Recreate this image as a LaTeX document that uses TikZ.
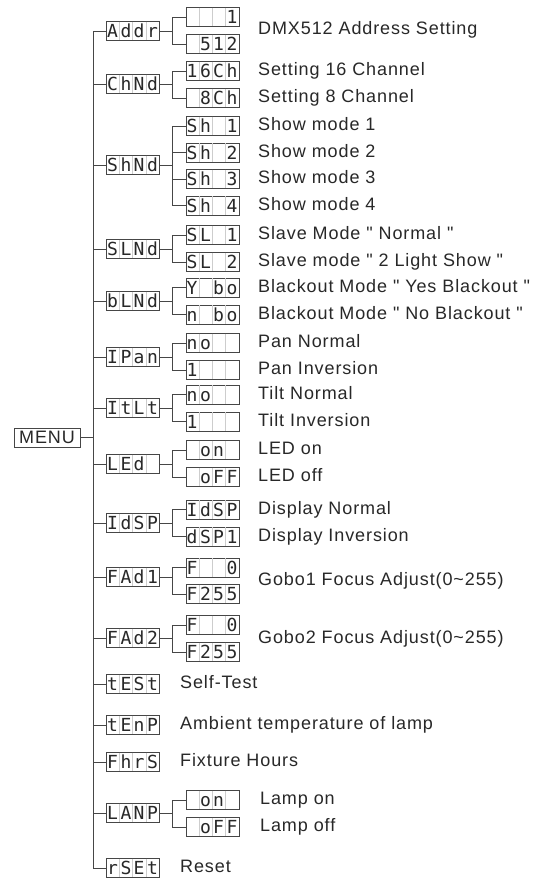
\documentclass[tikz,border=0pt]{standalone}
\usepackage{fontspec}
\setmainfont[LetterSpace=5]{Liberation Sans}
\newfontfamily\segfont{DejaVu Sans Mono}
\usetikzlibrary{
  positioning,
  calc
}
\definecolor{wire}{RGB}{70,70,70}
\definecolor{ink}{RGB}{40,40,40}
\definecolor{cellgrid}{RGB}{205,205,205}

\tikzset{
  seg/.style={draw=wire, line width=0.9pt, minimum width=53pt,
              minimum height=19pt, inner sep=0pt, fill=white},
  segcell/.style={font=\segfont\fontsize{18}{18}\selectfont, text=ink,
                  inner sep=0pt, text height=13pt, text depth=0pt},
  cellline/.style={draw=cellgrid, line width=0.5pt,
                   shorten >=0.6pt, shorten <=0.6pt},
  link/.style={draw=wire, line width=0.9pt},
  caption/.style={font=\fontsize{18}{18}\selectfont, text=ink, anchor=west,
                  inner sep=0pt, text height=13pt, text depth=4pt}
}

% one four-digit readout: name, centre, four characters
\newcommand{\segbox}[6]{%
  \node[seg] (#1) at (#2) {};
  \foreach \k in {1,2,3}
    \draw[cellline] ($(#1.north west)+(\k*13.25,0)$) -- ($(#1.south west)+(\k*13.25,0)$);
  \node[segcell] (#1-a) at ($(#1.west)+(6.6,0)$) {#3};
  \node[segcell] (#1-b) at ($(#1.west)+(19.9,0)$) {#4};
  \node[segcell] (#1-c) at ($(#1.west)+(33.1,0)$) {#5};
  \node[segcell] (#1-d) at ($(#1.west)+(46.4,0)$) {#6};
}

\begin{document}
\begin{tikzpicture}[x=1pt, y=-1pt]
  \fill[white] (0,0) rectangle (537,879);
  \useasboundingbox (0,0) rectangle (537,879);

  \node[draw=wire, line width=0.9pt, minimum width=66pt, minimum height=19pt,
        inner sep=0pt, font=\fontsize{18}{18}\selectfont, text=ink] (MENU) at (47,437.5) {MENU};
  \coordinate (trunk) at (93,31);

  % main menu readouts
  \segbox{Addr}{133,31}{A}{d}{d}{r}
  \segbox{ChNd}{133,84}{C}{h}{N}{d}
  \segbox{ShNd}{133,165}{S}{h}{N}{d}
  \segbox{SLNd}{133,249}{S}{L}{N}{d}
  \segbox{bLNd}{133,301}{b}{L}{N}{d}
  \segbox{IPAn}{133,357}{I}{P}{a}{n}
  \segbox{ItLt}{133,408}{I}{t}{L}{t}
  \segbox{LEd}{133,464}{L}{E}{d}{}
  \segbox{IdSP}{133,523}{I}{d}{S}{P}
  \segbox{FAd1}{133,577}{F}{A}{d}{1}
  \segbox{FAd2}{133,638}{F}{A}{d}{2}
  \segbox{tESt}{133,684}{t}{E}{S}{t}
  \segbox{tEnP}{133,725}{t}{E}{n}{P}
  \segbox{FhrS}{133,762}{F}{h}{r}{S}
  \segbox{LAnP}{133,813}{L}{A}{N}{P}
  \segbox{rSEt}{133,868}{r}{S}{E}{t}

  % sub readouts
  \segbox{Addr-1}{212.5,17}{}{}{}{1}
  \segbox{Addr-2}{212.5,44}{}{5}{1}{2}
  \segbox{ChNd-1}{212.5,71}{1}{6}{C}{h}
  \segbox{ChNd-2}{212.5,98}{}{8}{C}{h}
  \segbox{ShNd-1}{212.5,126}{S}{h}{}{1}
  \segbox{ShNd-2}{212.5,152.5}{S}{h}{}{2}
  \segbox{ShNd-3}{212.5,179}{S}{h}{}{3}
  \segbox{ShNd-4}{212.5,205.5}{S}{h}{}{4}
  \segbox{SLNd-1}{212.5,235}{S}{L}{}{1}
  \segbox{SLNd-2}{212.5,262}{S}{L}{}{2}
  \segbox{bLNd-1}{212.5,287.5}{Y}{}{b}{o}
  \segbox{bLNd-2}{212.5,314.5}{n}{}{b}{o}
  \segbox{IPAn-1}{212.5,343}{n}{o}{}{}
  \segbox{IPAn-2}{212.5,370}{1}{}{}{}
  \segbox{ItLt-1}{212.5,394.5}{n}{o}{}{}
  \segbox{ItLt-2}{212.5,421.5}{1}{}{}{}
  \segbox{LEd-1}{212.5,450}{}{o}{n}{}
  \segbox{LEd-2}{212.5,477}{}{o}{F}{F}
  \segbox{IdSP-1}{212.5,509.5}{I}{d}{S}{P}
  \segbox{IdSP-2}{212.5,536.5}{d}{S}{P}{1}
  \segbox{FAd1-1}{212.5,567.5}{F}{}{}{0}
  \segbox{FAd1-2}{212.5,594}{F}{2}{5}{5}
  \segbox{FAd2-1}{212.5,625}{F}{}{}{0}
  \segbox{FAd2-2}{212.5,652}{F}{2}{5}{5}
  \segbox{LAnP-1}{212.5,800}{}{o}{n}{}
  \segbox{LAnP-2}{212.5,827}{}{o}{F}{F}

  % connectors
  \draw[link] (MENU.east) -- (MENU.east -| trunk);
  \draw[link] (trunk) -- (trunk |- rSEt.west);
  \foreach \m in {Addr,ChNd,ShNd,SLNd,bLNd,IPAn,ItLt,LEd,IdSP,FAd1,FAd2,tESt,tEnP,FhrS,LAnP,rSEt}
    \draw[link] (\m.west) -- (\m.west -| trunk);
  \foreach \m/\n in {Addr/2,ChNd/2,ShNd/4,SLNd/2,bLNd/2,IPAn/2,ItLt/2,LEd/2,IdSP/2,FAd1/2,FAd2/2,LAnP/2} {
    \draw[link] (\m.east) -- ++(12,0) coordinate (\m-fork);
    \foreach \k in {1,...,\n}
      \draw[link] (\m-fork) |- (\m-\k.west);
  }

  % captions
  \node[caption] (capAddr) at (258,30) {DMX512 Address Setting};
  \node[caption] (capCh1) at (258,71) {Setting 16 Channel};
  \node[caption] (capCh2) at (258,98) {Setting 8 Channel};
  \node[caption] (capSh1) at (258,126) {Show mode 1};
  \node[caption] (capSh2) at (258,152.5) {Show mode 2};
  \node[caption] (capSh3) at (258,179) {Show mode 3};
  \node[caption] (capSh4) at (258,205.5) {Show mode 4};
  \node[caption] (capSL1) at (258,235) {Slave Mode \textquotedbl{} Normal \textquotedbl};
  \node[caption] (capSL2) at (258,262) {Slave mode \textquotedbl{} 2 Light Show \textquotedbl};
  \node[caption] (capbL1) at (258,287.5) {Blackout Mode \textquotedbl{} Yes Blackout \textquotedbl};
  \node[caption] (capbL2) at (258,314.5) {Blackout Mode \textquotedbl{} No Blackout \textquotedbl};
  \node[caption] (capPan1) at (258,343) {Pan Normal};
  \node[caption] (capPan2) at (258,370) {Pan Inversion};
  \node[caption] (capTilt1) at (258,394.5) {Tilt Normal};
  \node[caption] (capTilt2) at (258,421.5) {Tilt Inversion};
  \node[caption] (capLED1) at (258,450) {LED on};
  \node[caption] (capLED2) at (258,477) {LED off};
  \node[caption] (capDsp1) at (258,509.5) {Display Normal};
  \node[caption] (capDsp2) at (258,536.5) {Display Inversion};
  \node[caption] (capGobo1) at (258,581) {Gobo1 Focus Adjust(0\textasciitilde255)};
  \node[caption] (capGobo2) at (258,638.5) {Gobo2 Focus Adjust(0\textasciitilde255)};
  \node[caption] (capTest) at (180,684) {Self-Test};
  \node[caption] (capTemp) at (180,725) {Ambient temperature of lamp};
  \node[caption] (capHrs) at (180,762) {Fixture Hours};
  \node[caption] (capLamp1) at (260,800) {Lamp on};
  \node[caption] (capLamp2) at (260,827) {Lamp off};
  \node[caption] (capReset) at (180,868) {Reset};
\end{tikzpicture}
\end{document}
